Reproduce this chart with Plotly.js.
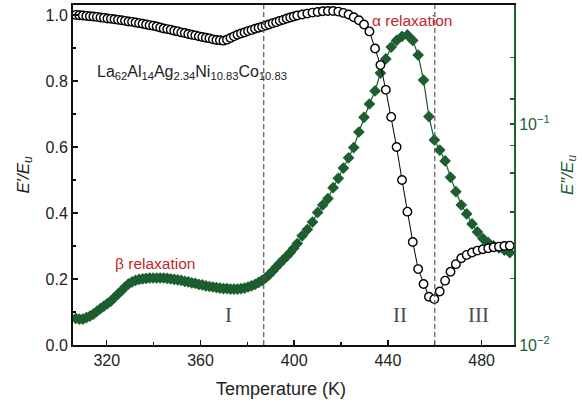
<!DOCTYPE html>
<html>
<head>
<meta charset="utf-8">
<script src="https://cdn.plot.ly/plotly-3.0.1.min.js"></script>
<style>
  html, body { margin: 0; padding: 0; background: #fff; }
  #chart { width: 582px; height: 404px; }
</style>
</head>
<body>
<div id="chart"></div>
<script>
// Temperature (K) of each DMA measurement point
const temperature = [
  306.8, 308.3, 309.8, 311.3, 312.8, 314.3, 315.8, 317.3, 318.8, 320.3,
  321.8, 323.3, 324.8, 326.3, 327.8, 329.3, 330.8, 332.3, 333.8, 335.3,
  336.8, 338.3, 339.8, 341.3, 342.8, 344.3, 345.8, 347.3, 348.8, 350.3,
  351.8, 353.3, 354.8, 356.3, 357.8, 359.3, 360.8, 362.3, 363.8, 365.3,
  366.8, 368.3, 369.8, 371.3, 372.8, 374.3, 375.8, 377.3, 378.8, 380.3,
  381.8, 383.3, 384.8, 386.3, 387.8, 389.3, 390.8, 392.3, 393.8, 395.3,
  396.8, 398.3, 399.8, 401.3,
  403.4, 405.6, 407.8, 410.0, 412.2, 414.4, 416.6, 418.8, 421.0, 423.2,
  425.4, 427.6, 429.8, 432.1, 434.5,
  436.8, 439.1, 441.4, 443.7, 446.0, 448.3, 450.6, 452.9, 455.2, 457.5,
  459.8, 462.1, 464.4, 466.7, 469.0, 471.3, 473.6, 475.9, 478.2, 480.5,
  482.8, 485.1, 487.4, 489.7, 492.0
];

// Normalized storage modulus E'/Eu (left axis)
const storageModulus = [
  1.000, 0.999, 0.998, 0.997, 0.996, 0.995, 0.994, 0.992, 0.991, 0.989,
  0.988, 0.987, 0.985, 0.984, 0.982, 0.980, 0.979, 0.977, 0.975, 0.973,
  0.971, 0.969, 0.967, 0.965, 0.962, 0.959, 0.957, 0.955, 0.952, 0.950,
  0.947, 0.945, 0.942, 0.940, 0.938, 0.935, 0.933, 0.931, 0.929, 0.926,
  0.924, 0.923, 0.922, 0.925, 0.930, 0.935, 0.940, 0.944, 0.947, 0.951,
  0.954, 0.958, 0.961, 0.964, 0.968, 0.971, 0.975, 0.978, 0.982, 0.985,
  0.989, 0.992, 0.995, 0.998,
  1.001, 1.004, 1.007, 1.009, 1.011, 1.012, 1.012, 1.010, 1.006, 1.001,
  0.993, 0.984, 0.971, 0.950, 0.898,
  0.848, 0.773, 0.691, 0.600, 0.500, 0.404, 0.312, 0.230, 0.185, 0.146,
  0.139, 0.162, 0.195, 0.222, 0.245, 0.263, 0.273, 0.280, 0.286, 0.290,
  0.293, 0.296, 0.298, 0.300, 0.301
];

// Normalized loss modulus E''/Eu (right axis, log scale)
const lossModulus = [
  0.0132, 0.0131, 0.0131, 0.0133, 0.0135, 0.0138, 0.0142, 0.0146, 0.0150, 0.0154,
  0.0158, 0.0164, 0.0170, 0.0176, 0.0183, 0.0189, 0.0193, 0.0196, 0.0198, 0.0199,
  0.0200, 0.0201, 0.0201, 0.0201, 0.0201, 0.0201, 0.0200, 0.0199, 0.0198, 0.0197,
  0.0196, 0.0194, 0.0193, 0.0191, 0.0190, 0.0188, 0.0187, 0.0185, 0.0184, 0.0183,
  0.0182, 0.0181, 0.0180, 0.0180, 0.0179, 0.0179, 0.0179, 0.0180, 0.0181, 0.0183,
  0.0185, 0.0188, 0.0192, 0.0196, 0.0201, 0.0208, 0.0216, 0.0225, 0.0234, 0.0243,
  0.0252, 0.0262, 0.0274, 0.0288,
  0.0312, 0.0333, 0.0360, 0.0398, 0.0430, 0.0460, 0.0515, 0.0568, 0.0632, 0.0703,
  0.0782, 0.0920, 0.1072, 0.1232, 0.1411,
  0.170, 0.197, 0.223, 0.239, 0.249, 0.253, 0.239, 0.205, 0.158, 0.108,
  0.0847, 0.0762, 0.0681, 0.0574, 0.0494, 0.0430, 0.0392, 0.0353, 0.0325, 0.0303,
  0.0291, 0.0281, 0.0275, 0.0269, 0.0262
];

// Boundaries between the three temperature regions
const regionBounds = [387, 460];

// Tick positions / labels
const xTicks = [320, 360, 400, 440, 480];
const lossTickVals = [0.01, 0.02, 0.04, 0.06, 0.08, 0.1, 0.13, 0.2];
const lossTickText = ['10<sup>−2</sup>', '', '', '', '', '10<sup>−1</sup>', '', ''];

const GREEN = '#1c5e2e';
const RED = '#c1272d';
const FONT = 'Liberation Sans, Arial, Helvetica, sans-serif';
const SERIF = 'Liberation Serif, Times New Roman, serif';

// Plot area in pixels (used to place the x-axis title)
const PLOT = { left: 73, right: 514, top: 5, bottom: 345 };

const traces = [
  {
    x: temperature, y: lossModulus, yaxis: 'y',
    type: 'scatter', mode: 'lines+markers',
    line: { color: GREEN, width: 1.2 },
    marker: { symbol: 'diamond', size: 9, color: GREEN, line: { width: 0 } },
    showlegend: false
  },
  {
    x: temperature, y: storageModulus, yaxis: 'y2',
    type: 'scatter', mode: 'lines+markers',
    line: { color: '#000', width: 1 },
    marker: { symbol: 'circle', size: 8.5, color: '#fff', line: { color: '#000', width: 1.4 } },
    showlegend: false
  }
];

const shapes = regionBounds.map(t => ({
  type: 'line', xref: 'x', yref: 'paper', x0: t, x1: t, y0: 0, y1: 1,
  line: { color: '#555', width: 1.2, dash: '5px,3px' }, layer: 'above'
}));

const annotations = [
  { text: 'La<sub>62</sub>Al<sub>14</sub>Ag<sub>2.34</sub>Ni<sub>10.83</sub>Co<sub>10.83</sub>',
    x: 315.0, y: 0.825, xref: 'x', yref: 'y2', xanchor: 'left', yanchor: 'middle',
    showarrow: false, font: { family: FONT, size: 16, color: '#222' } },
  { text: 'α relaxation', x: 450.3, y: 0.982, xref: 'x', yref: 'y2',
    xanchor: 'center', yanchor: 'middle',
    showarrow: false, font: { family: FONT, size: 15.5, color: RED } },
  { text: 'β relaxation', x: 340.4, y: 0.247, xref: 'x', yref: 'y2',
    xanchor: 'center', yanchor: 'middle',
    showarrow: false, font: { family: FONT, size: 15.5, color: RED } },
  { text: 'I', x: 371.8, y: 0.091, xref: 'x', yref: 'y2',
    xanchor: 'center', yanchor: 'middle',
    showarrow: false, font: { family: SERIF, size: 21, color: '#4a4a4a' } },
  { text: 'II', x: 445.0, y: 0.091, xref: 'x', yref: 'y2',
    xanchor: 'center', yanchor: 'middle',
    showarrow: false, font: { family: SERIF, size: 21, color: '#4a4a4a' } },
  { text: 'III', x: 478.6, y: 0.091, xref: 'x', yref: 'y2',
    xanchor: 'center', yanchor: 'middle',
    showarrow: false, font: { family: SERIF, size: 21, color: '#4a4a4a' } },
  { text: 'Temperature (K)',
    x: (280.5 - PLOT.left) / (PLOT.right - PLOT.left),
    y: -(389 - PLOT.bottom) / (PLOT.bottom - PLOT.top),
    xref: 'paper', yref: 'paper', xanchor: 'center', yanchor: 'middle',
    showarrow: false, font: { family: FONT, size: 18, color: '#222' } }
];

const layout = {
  width: 582, height: 404,
  margin: { l: PLOT.left, r: 582 - PLOT.right, t: PLOT.top, b: 404 - PLOT.bottom },
  paper_bgcolor: '#fff', plot_bgcolor: '#fff',
  font: { family: FONT, size: 16, color: '#222' },
  showlegend: false,
  xaxis: {
    range: [305.6, 493.8],
    tickvals: xTicks,
    ticks: 'inside', ticklen: 5, tickwidth: 1.5, tickcolor: '#111',
    minor: { dtick: 20, tick0: 320, ticks: 'inside', ticklen: 3, tickwidth: 1.2, tickcolor: '#111' },
    showline: true, linecolor: '#111', linewidth: 2, mirror: true,
    showgrid: false, zeroline: false,
    tickfont: { family: FONT, size: 16, color: '#222' }
  },
  yaxis: {
    type: 'log', range: [-2, -0.4615], side: 'right',
    tickvals: lossTickVals, ticktext: lossTickText,
    ticks: 'inside', ticklen: 4, tickwidth: 1.5, tickcolor: GREEN,
    showline: true, linecolor: GREEN, linewidth: 2,
    showgrid: false, zeroline: false,
    tickfont: { family: FONT, size: 16, color: GREEN },
    title: { text: '<i>E″/E<sub>u</sub></i>', font: { family: FONT, size: 17, color: GREEN }, standoff: 12 }
  },
  yaxis2: {
    overlaying: 'y', side: 'left',
    range: [0, 1.03], tick0: 0, dtick: 0.2, tickformat: '.1f',
    ticks: 'inside', ticklen: 5, tickwidth: 1.5, tickcolor: '#111',
    minor: { dtick: 0.1, tick0: 0, ticks: 'inside', ticklen: 3, tickwidth: 1.2, tickcolor: '#111' },
    showline: true, linecolor: '#111', linewidth: 2,
    showgrid: false, zeroline: false,
    tickfont: { family: FONT, size: 16, color: '#222' },
    title: { text: '<i>E′/E<sub>u</sub></i>', font: { family: FONT, size: 17, color: '#222' }, standoff: 12 }
  },
  shapes: shapes,
  annotations: annotations
};

Plotly.newPlot('chart', traces, layout, { displayModeBar: false, staticPlot: true });
</script>
</body>
</html>
